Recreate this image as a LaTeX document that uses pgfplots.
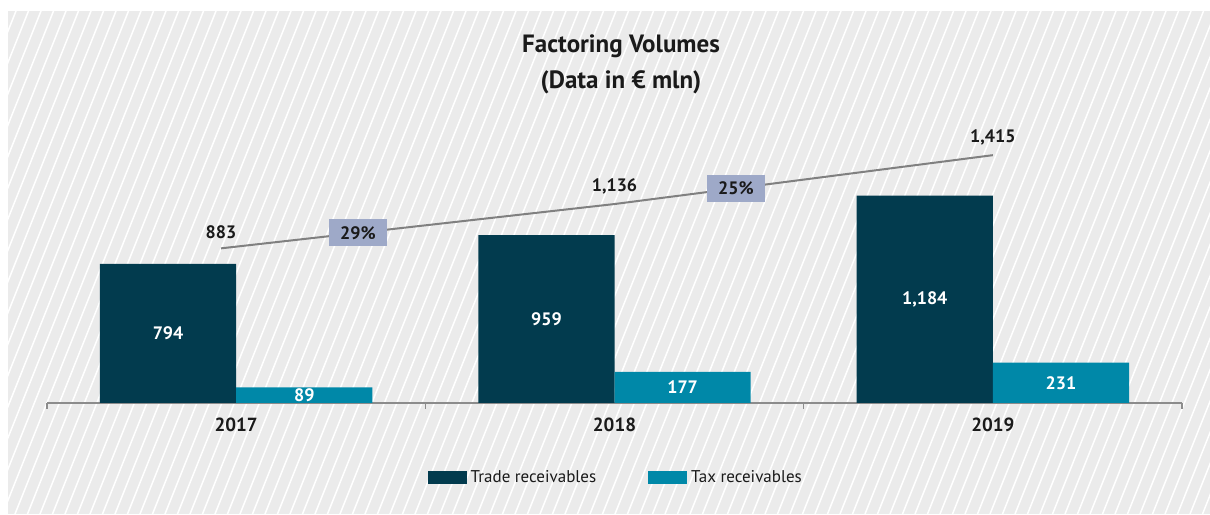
\documentclass[border=0pt]{standalone}
\usepackage{fontspec}
\setmainfont{PT Sans}
\usepackage{pgfplots}
\pgfplotsset{compat=1.18}

\definecolor{trade}{HTML}{023B4E}
\definecolor{tax}{HTML}{0088A8}
\definecolor{pctbox}{HTML}{9EA9C8}
\definecolor{panel}{HTML}{EBEBEB}
\definecolor{axisgray}{HTML}{8C8C8C}
\definecolor{linegray}{HTML}{808080}
\definecolor{ink}{HTML}{1A1A1A}

\begin{document}
\begin{tikzpicture}
% background panel with white diagonal stripes (1 unit = 1 px of the reference)
\begin{scope}[x=0.5pt,y=0.5pt]
\path (0,0) rectangle (1210,514);
\fill[panel] (8,0) rectangle (1210,503);
\clip (8,0) rectangle (1210,503);
\foreach \i in {0,...,116} {
  \draw[white, line width=0.75pt] (-210+\i*12.5,0) -- ++(201,503);
}
\node[font=\bfseries\fontsize{12.5}{14}\selectfont, text=ink] at (621,468) {Factoring Volumes};
\node[font=\bfseries\fontsize{12.5}{14}\selectfont, text=ink] at (621,432) {(Data in € mln)};
\end{scope}

\begin{axis}[
    at={(23.5pt,55.5pt)}, anchor=south west,
    scale only axis,
    width=567.5pt, height=151.5pt,
    xmin=-0.5, xmax=2.5,
    ymin=0, ymax=1730,
    clip=false,
    axis x line*=bottom,
    axis y line=none,
    axis line style={axisgray, line width=0.75pt},
    xtick={0,1,2},
    xticklabels={2017,2018,2019},
    major tick length=0pt,
    minor xtick={-0.5,0.5,1.5,2.5},
    minor tick length=3pt,
    tick align=outside,
    tick style={axisgray, line width=0.75pt},
    xticklabel style={font=\bfseries\fontsize{9.5}{11}\selectfont, text=ink, yshift=-4pt},
    legend style={at={(0.502,-0.2475)}, anchor=center, draw=none, fill=none,
        legend columns=2, font=\fontsize{8.5}{10}\selectfont, text=ink,
        /tikz/every even column/.append style={column sep=24pt}},
    legend cell align=left,
]
\addplot[ybar, bar width=0.36, bar shift=-0.18, fill=trade, draw=none,
    legend image code/.code={\fill[trade] (0pt,-3.25pt) rectangle (19.5pt,3.25pt);},
    point meta=explicit symbolic,
    visualization depends on={y \as \rawy},
    nodes near coords,
    every node near coord/.append style={anchor=center, text=white,
        font=\bfseries\fontsize{9}{10}\selectfont,
        shift={(axis direction cs:-0.18,-\rawy/2)}}]
    coordinates {(0,794) [794] (1,959) [959] (2,1184) [1,184]};
\addplot[ybar, bar width=0.36, bar shift=0.18, fill=tax, draw=none,
    legend image code/.code={\fill[tax] (0pt,-3.25pt) rectangle (19.5pt,3.25pt);},
    point meta=explicit symbolic,
    visualization depends on={y \as \rawy},
    nodes near coords,
    every node near coord/.append style={anchor=center, text=white,
        font=\bfseries\fontsize{9}{10}\selectfont,
        shift={(axis direction cs:0.18,-\rawy/2)}}]
    coordinates {(0,89) [89] (1,177) [177] (2,231) [231]};
\addplot[linegray, line width=1pt, forget plot,
    point meta=explicit symbolic,
    nodes near coords,
    every node near coord/.append style={anchor=south, text=ink, yshift=1pt,
        font=\bfseries\fontsize{9}{10}\selectfont}]
    coordinates {(-0.04,883) [883] (1,1136) [1,136] (2,1415) [1,415]};
\node[fill=pctbox, minimum width=29pt, minimum height=13.5pt, inner sep=0pt,
    text=ink, font=\bfseries\fontsize{9}{10}\selectfont] at (axis cs:0.322,971) {29\%};
\node[fill=pctbox, minimum width=29pt, minimum height=13.5pt, inner sep=0pt,
    text=ink, font=\bfseries\fontsize{9}{10}\selectfont] at (axis cs:1.321,1226) {25\%};
\legend{Trade receivables, Tax receivables}
\end{axis}
\end{tikzpicture}
\end{document}
